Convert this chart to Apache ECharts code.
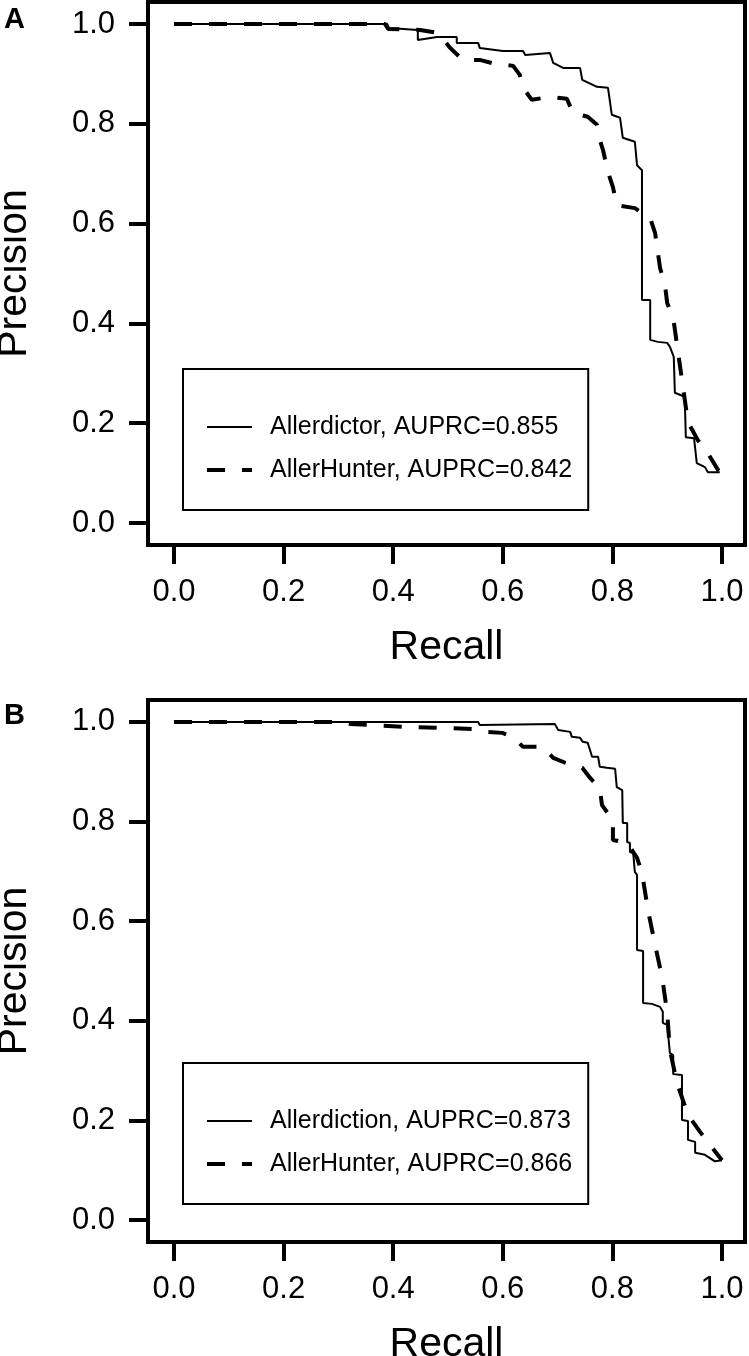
<!DOCTYPE html>
<html>
<head>
<meta charset="utf-8">
<script src="https://cdn.jsdelivr.net/npm/echarts@6/dist/echarts.min.js"></script>
<style>
html,body{margin:0;padding:0;background:#fff;}
#chart{width:749px;height:1356px;}
</style>
</head>
<body>
<div id="chart"></div>
<script>
// ---------- DATA ----------
const tickValues = [0, 0.2, 0.4, 0.6, 0.8, 1.0];
const panelLabels = ['A', 'B'];
const axisNames = { x: 'Recall', y: 'Precision' };

const seriesNamesA = ['Allerdictor, AUPRC=0.855', 'AllerHunter, AUPRC=0.842'];
const seriesNamesB = ['Allerdiction, AUPRC=0.873', 'AllerHunter, AUPRC=0.866'];

// Panel A - Allerdictor (solid)
const aSolidRecall = [0, 0.389, 0.392, 0.445, 0.445, 0.480, 0.516, 0.516, 0.555, 0.558, 0.600, 0.637, 0.641, 0.686, 0.692, 0.710, 0.741, 0.745, 0.772, 0.792, 0.799, 0.814, 0.819, 0.841, 0.845, 0.854, 0.854, 0.869, 0.869, 0.883, 0.900, 0.905, 0.912, 0.914, 0.923, 0.932, 0.934, 0.949, 0.954, 0.969, 0.974, 0.996];
const aSolidPrec   = [1.0, 1.0, 0.992, 0.988, 0.968, 0.974, 0.974, 0.962, 0.962, 0.952, 0.946, 0.946, 0.938, 0.942, 0.922, 0.912, 0.912, 0.888, 0.874, 0.872, 0.818, 0.812, 0.772, 0.764, 0.717, 0.707, 0.447, 0.447, 0.367, 0.363, 0.361, 0.353, 0.333, 0.261, 0.257, 0.253, 0.172, 0.170, 0.120, 0.112, 0.102, 0.102];

// Panel A - AllerHunter (dashed)
const aDashRecall = [0, 0.385, 0.391, 0.449, 0.482, 0.504, 0.527, 0.558, 0.586, 0.619, 0.631, 0.637, 0.653, 0.686, 0.717, 0.728, 0.755, 0.772, 0.777, 0.783, 0.792, 0.801, 0.808, 0.841, 0.869, 0.878, 0.887, 0.896, 0.900, 0.911, 0.920, 0.929, 0.938, 0.956, 0.974, 0.993, 1.0];
const aDashPrec   = [1.0, 1.0, 0.990, 0.988, 0.982, 0.952, 0.928, 0.928, 0.920, 0.916, 0.898, 0.872, 0.848, 0.854, 0.850, 0.822, 0.814, 0.798, 0.768, 0.747, 0.703, 0.673, 0.637, 0.631, 0.611, 0.581, 0.511, 0.477, 0.441, 0.411, 0.341, 0.271, 0.202, 0.166, 0.140, 0.106, 0.100];

// Panel B - Allerdiction (solid)
const bSolidRecall = [0, 0.555, 0.558, 0.695, 0.701, 0.723, 0.726, 0.741, 0.746, 0.755, 0.759, 0.763, 0.774, 0.777, 0.790, 0.805, 0.808, 0.818, 0.819, 0.827, 0.827, 0.832, 0.832, 0.838, 0.841, 0.845, 0.845, 0.856, 0.856, 0.872, 0.887, 0.892, 0.892, 0.900, 0.905, 0.911, 0.911, 0.927, 0.927, 0.938, 0.938, 0.951, 0.951, 0.969, 0.987, 1.0];
const bSolidPrec   = [1.0, 1.0, 0.994, 0.996, 0.984, 0.980, 0.970, 0.968, 0.960, 0.958, 0.944, 0.930, 0.930, 0.910, 0.908, 0.906, 0.869, 0.863, 0.797, 0.797, 0.759, 0.757, 0.739, 0.737, 0.699, 0.693, 0.542, 0.540, 0.436, 0.434, 0.428, 0.418, 0.396, 0.392, 0.335, 0.331, 0.293, 0.291, 0.201, 0.199, 0.161, 0.157, 0.135, 0.131, 0.118, 0.120];

// Panel B - AllerHunter (dashed)
const bDashRecall = [0, 0.303, 0.321, 0.354, 0.418, 0.485, 0.544, 0.571, 0.599, 0.619, 0.637, 0.673, 0.692, 0.714, 0.745, 0.759, 0.777, 0.781, 0.801, 0.801, 0.827, 0.845, 0.854, 0.865, 0.878, 0.891, 0.900, 0.905, 0.918, 0.938, 0.960, 0.978, 1.0];
const bDashPrec   = [1.0, 1.0, 0.996, 0.994, 0.990, 0.988, 0.986, 0.980, 0.978, 0.970, 0.950, 0.950, 0.928, 0.918, 0.908, 0.888, 0.867, 0.833, 0.803, 0.763, 0.757, 0.727, 0.697, 0.622, 0.552, 0.486, 0.416, 0.341, 0.275, 0.211, 0.177, 0.151, 0.120];

// ---------- BUILD ----------
const zip = (xs, ys) => xs.map((x, i) => [x, ys[i]]);
const FONT = '"Liberation Sans", Arial, Helvetica, sans-serif';

const grids = [
  { left: 148, top: 2, width: 597, height: 543 },
  { left: 148, top: 700, width: 597, height: 542 }
];

function xAxisFor(i) {
  return {
    type: 'value', gridIndex: i, min: -0.0474, max: 1.042, position: 'bottom',
    axisLine: { show: false, onZero: false },
    splitLine: { show: false },
    axisTick: { show: true, inside: false, length: 19, customValues: tickValues, lineStyle: { color: '#000', width: 4 } },
    axisLabel: { customValues: tickValues, formatter: v => v.toFixed(1), color: '#000', fontSize: 31, fontFamily: FONT, margin: 32 },
    name: axisNames.x, nameLocation: 'middle', nameGap: 82,
    nameTextStyle: { color: '#000', fontSize: 41, fontFamily: FONT }
  };
}
function yAxisFor(i) {
  return {
    type: 'value', gridIndex: i, min: -0.044, max: 1.044, position: 'left',
    axisLine: { show: false, onZero: false },
    splitLine: { show: false },
    axisTick: { show: true, inside: false, length: 19, customValues: tickValues, lineStyle: { color: '#000', width: 4 } },
    axisLabel: { customValues: tickValues, formatter: v => v.toFixed(1), color: '#000', fontSize: 31, fontFamily: FONT, margin: 33 },
    name: axisNames.y, nameLocation: 'middle', nameGap: 113,
    nameTextStyle: { color: '#000', fontSize: 41, fontFamily: FONT }
  };
}

function lineSeries(name, data, idx, dashed) {
  return {
    name, type: 'line', xAxisIndex: idx, yAxisIndex: idx, data,
    symbol: 'none', showSymbol: false, animation: false,
    lineStyle: dashed ? { color: '#000', width: 4, type: [18, 17], cap: 'butt' } : { color: '#000', width: 2 },
    itemStyle: { color: '#000' }
  };
}

function legendFor(names, top) {
  return {
    data: names, orient: 'vertical', left: 183, top,
    borderColor: '#000', borderWidth: 2, padding: [43, 16, 25, 22],
    itemWidth: 45, itemHeight: 14, itemGap: 13,
    itemStyle: { color: 'rgba(0,0,0,0)', borderColor: 'rgba(0,0,0,0)', borderWidth: 0, opacity: 0 },
    lineStyle: { width: 'inherit' },
    textStyle: { color: '#000', fontSize: 25, lineHeight: 30, fontFamily: FONT, padding: [0, 0, 0, 13] },
    selectedMode: false
  };
}

const option = {
  backgroundColor: '#fff',
  animation: false,
  grid: grids.map(g => Object.assign({ show: true, borderColor: '#000', borderWidth: 4, backgroundColor: 'transparent', containLabel: false, outerBoundsMode: 'none' }, g)),
  xAxis: [xAxisFor(0), xAxisFor(1)],
  yAxis: [yAxisFor(0), yAxisFor(1)],
  legend: [legendFor(seriesNamesA, 369), legendFor(seriesNamesB, 1063)],
  series: [
    lineSeries(seriesNamesA[0], zip(aSolidRecall, aSolidPrec), 0, false),
    lineSeries(seriesNamesA[1], zip(aDashRecall, aDashPrec), 0, true),
    lineSeries(seriesNamesB[0], zip(bSolidRecall, bSolidPrec), 1, false),
    lineSeries(seriesNamesB[1], zip(bDashRecall, bDashPrec), 1, true)
  ],
  graphic: [
    { type: 'text', left: 4, top: 5, style: { text: panelLabels[0], fill: '#000', fontSize: 29, fontWeight: 'bold', fontFamily: FONT } },
    { type: 'text', left: 4, top: 701, style: { text: panelLabels[1], fill: '#000', fontSize: 29, fontWeight: 'bold', fontFamily: FONT } }
  ]
};

const chart = echarts.init(document.getElementById('chart'), null, { renderer: 'canvas' });
chart.setOption(option);
</script>
</body>
</html>
